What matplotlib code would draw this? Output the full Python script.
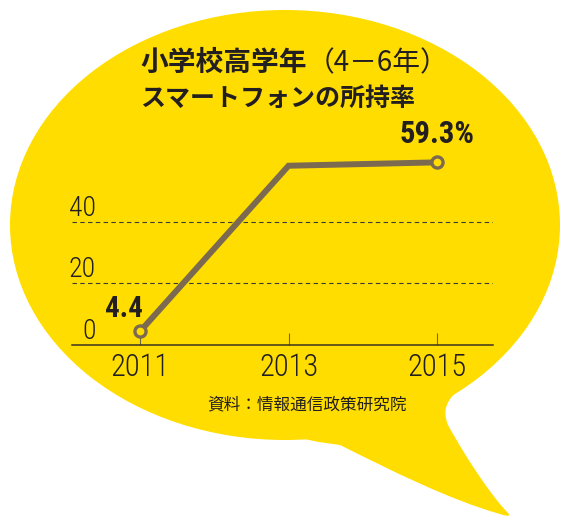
import matplotlib
matplotlib.use('Agg')
import matplotlib.pyplot as plt
from matplotlib import font_manager
from matplotlib.patches import Ellipse, PathPatch
from matplotlib.path import Path
from matplotlib.transforms import ScaledTranslation

# data
years = [2011, 2013, 2015]
share = [4.4, 58.2, 59.3]
y_ticks = [0, 20, 40]
value_labels = {2011: '4.4', 2015: '59.3%'}

title_bold = '小学校高学年'
title_paren = '（4－6年）'
title_line2 = 'スマートフォンの所持率'
source = '資料：情報通信政策研究院'

yellow = '#FFDD00'
ink = '#231f20'
brown = '#7b6a50'

names = {f.name for f in font_manager.fontManager.ttflist}
narrow = 'DejaVu Sans'
for cand in ['Roboto Condensed', 'Liberation Sans Narrow', 'Roboto']:
    if cand in names:
        narrow = cand
        break
cjk = ['Noto Sans CJK JP', 'DejaVu Sans']

W, H = 570, 525
fig = plt.figure(figsize=(W / 100, H / 100), dpi=100)

# speech bubble drawn in pixel coords
bg = fig.add_axes([0, 0, 1, 1])
bg.set_xlim(0, W)
bg.set_ylim(H, 0)
bg.axis('off')
bg.add_patch(Ellipse((285, 225), 550, 430, color=yellow, lw=0))
tail = Path([(380, 380), (470, 380), (455, 393),
             (445, 404), (443, 412), (448, 425),
             (470, 465), (495, 500), (508, 513),
             (512, 517), (505, 516), (500, 514),
             (450, 500), (390, 470), (340, 445),
             (320, 442), (300, 441), (290, 430), (380, 380)],
            [Path.MOVETO, Path.LINETO, Path.LINETO,
             Path.CURVE4, Path.CURVE4, Path.CURVE4,
             Path.CURVE4, Path.CURVE4, Path.CURVE4,
             Path.CURVE4, Path.CURVE4, Path.CURVE4,
             Path.CURVE4, Path.CURVE4, Path.CURVE4,
             Path.CURVE4, Path.CURVE4, Path.CURVE4, Path.CLOSEPOLY])
bg.add_patch(PathPatch(tail, facecolor=yellow, lw=0))

# titles
t1 = bg.text(140, 63, title_bold, family=cjk, fontsize=20, fontweight='bold',
             color=ink, va='center', ha='left')
bg.annotate(title_paren, xy=(1, 0.5), xycoords=t1, family=cjk, fontsize=20,
            color=ink, va='center', ha='left')
bg.text(140, 99, title_line2, family=cjk, fontsize=18, fontweight='bold',
        color=ink, va='center', ha='left')
bg.text(307, 405, source, family=cjk, fontsize=12, color=ink,
        va='center', ha='center')

# line chart
ax = fig.add_axes([72 / W, (H - 345) / H, (493 - 72) / W, (345 - 110) / H])
ax.patch.set_alpha(0)
ax.set_xlim(2010.084, 2015.754)
ax.set_ylim(0, 235 / 3.08)
for s in ['top', 'right', 'left']:
    ax.spines[s].set_visible(False)
ax.spines['bottom'].set_color('#3b3420')
ax.spines['bottom'].set_linewidth(1.1)

ax.plot(years, share, color=brown, lw=4.3, solid_joinstyle='miter',
        marker='o', markevery=[0, len(years) - 1], ms=8, mfc=yellow,
        mec=brown, mew=2.4, zorder=5, clip_on=False)

for yr, lab in value_labels.items():
    v = share[years.index(yr)]
    if yr == years[0]:
        ax.annotate(lab, (yr, v), xytext=(3, 14), textcoords='offset pixels',
                    ha='right', va='baseline', fontsize=21, fontweight='bold',
                    family=narrow, color=ink)
    else:
        ax.annotate(lab, (yr, v), xytext=(0, 19), textcoords='offset pixels',
                    ha='center', va='baseline', fontsize=22, fontweight='bold',
                    family=narrow, color=ink)

ax.set_xticks(years)
ax.set_xticklabels([str(y) for y in years], family=narrow, fontsize=22,
                   fontweight='light', color=ink)
ax.tick_params(axis='x', direction='in', length=8.6, width=0.8,
               color='#6f6443', pad=6)

ax.set_yticks(y_ticks)
ax.set_yticklabels([str(v) for v in y_ticks], family=narrow, fontsize=20,
                   fontweight='light', color=ink)
ax.tick_params(axis='y', length=0, pad=-17.3)
shift = ScaledTranslation(0, 6 / 100, fig.dpi_scale_trans)
for lab in ax.get_yticklabels():
    lab.set_verticalalignment('baseline')
    lab.set_transform(lab.get_transform() + shift)

ax.grid(axis='y', color='#3a3a3a', lw=0.8, ls=(0, (4, 3)))
ax.yaxis.get_gridlines()[0].set_visible(False)

fig.savefig('out.png', dpi=100)
